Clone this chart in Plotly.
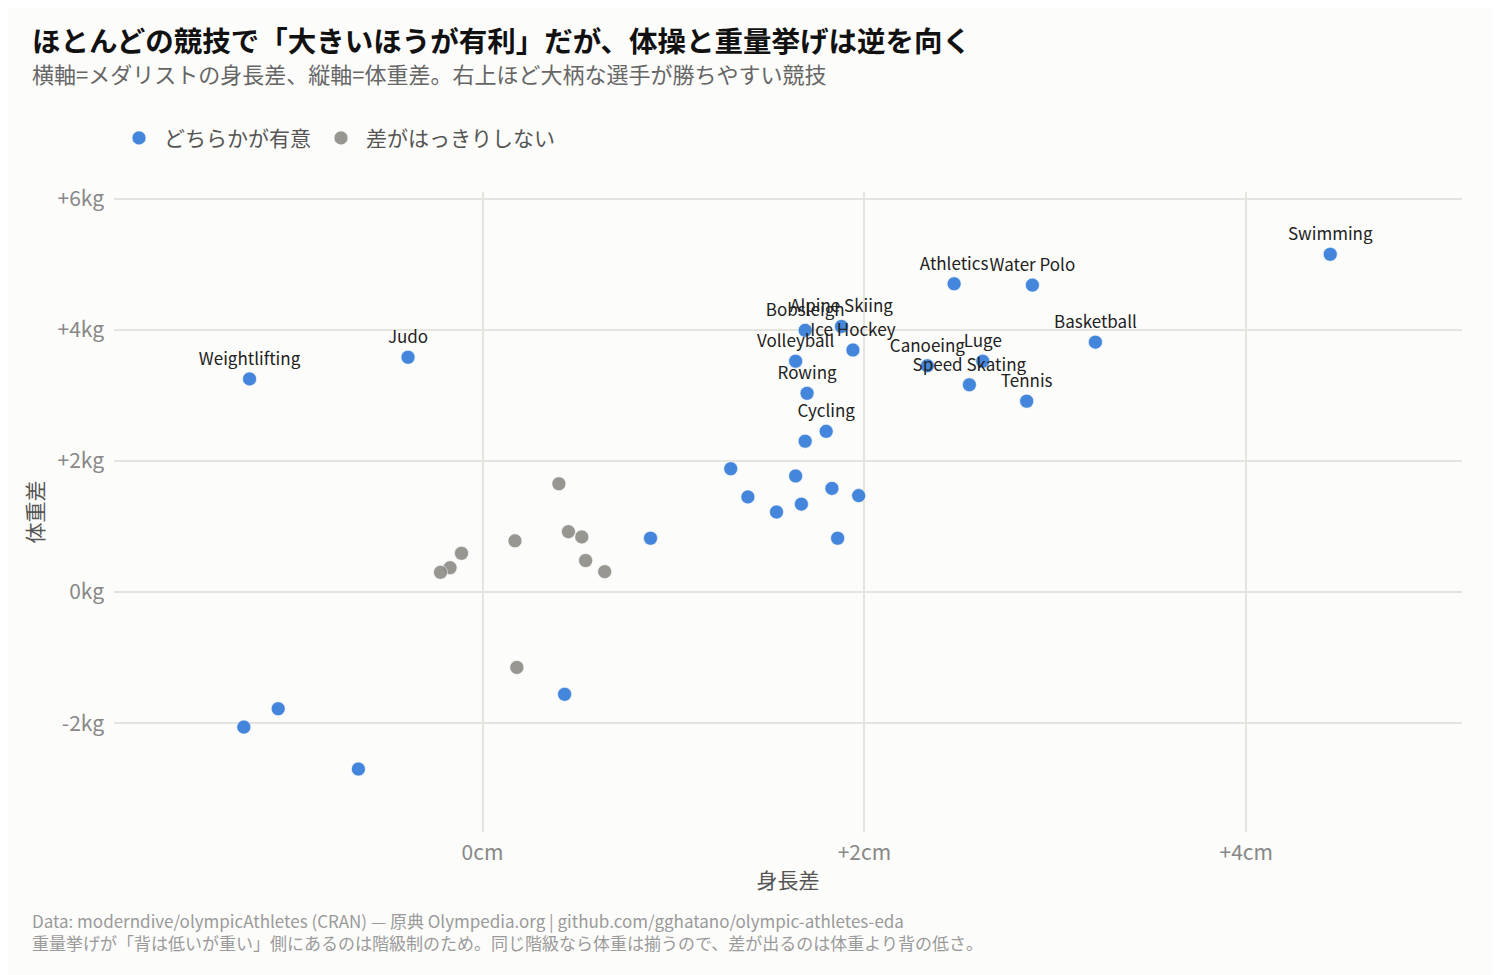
import plotly.graph_objects as go

# significant sports (blue); "" = no label shown
sig_names = ["Swimming", "Athletics", "Water Polo", "Basketball", "Bobsleigh",
             "Alpine Skiing", "Ice Hockey", "Volleyball", "Rowing", "Cycling",
             "", "Canoeing", "Luge", "Speed Skating", "Tennis",
             "Weightlifting", "Judo",
             "", "", "", "", "", "", "", "", "", "", "", "", ""]
sig_height = [4.44, 2.47, 2.88, 3.21, 1.69,
              1.88, 1.94, 1.64, 1.70, 1.80,
              1.69, 2.33, 2.62, 2.55, 2.85,
              -1.22, -0.39,
              1.30, 1.39, 1.54, 1.64, 1.67, 1.83, 1.97, 1.86, 0.88, 0.43,
              -1.25, -1.07, -0.65]
sig_weight = [5.15, 4.70, 4.68, 3.81, 3.99,
              4.05, 3.69, 3.52, 3.03, 2.45,
              2.30, 3.45, 3.52, 3.16, 2.91,
              3.25, 3.58,
              1.88, 1.45, 1.22, 1.77, 1.34, 1.58, 1.47, 0.82, 0.82, -1.56,
              -2.06, -1.78, -2.70]

# not clearly different (gray)
ns_height = [0.40, 0.45, 0.52, 0.17, -0.11, -0.17, -0.22, 0.54, 0.64, 0.18]
ns_weight = [1.65, 0.92, 0.84, 0.78, 0.59, 0.37, 0.30, 0.48, 0.31, -1.15]

x_ticks = [0, 2, 4]
x_labels = ["0cm", "+2cm", "+4cm"]
y_ticks = [-2, 0, 2, 4, 6]
y_labels = ["-2kg", "0kg", "+2kg", "+4kg", "+6kg"]

FONT = "Noto Sans CJK JP"
BG = "#fcfcfa"
GRID = "#e6e4de"

fig = go.Figure()

fig.add_trace(go.Scatter(
    x=sig_height, y=sig_weight, text=sig_names,
    mode="markers+text", textposition="top center",
    textfont=dict(family=FONT, size=17, color="#222222"),
    marker=dict(size=14, color="#3a80da", opacity=0.95,
                line=dict(width=1, color="rgba(255,255,255,0.6)")),
    name="どちらかが有意",
))
fig.add_trace(go.Scatter(
    x=ns_height, y=ns_weight,
    mode="markers",
    marker=dict(size=14, color="#8d8b85", opacity=0.9,
                line=dict(width=1, color="rgba(255,255,255,0.6)")),
    name="差がはっきりしない",
))

# page has an 8px body margin, so the figure is drawn 8px smaller/shifted
fig.update_layout(
    width=1492, height=967,
    paper_bgcolor=BG, plot_bgcolor=BG,
    font=dict(family=FONT, size=21, color="#555555"),
    margin=dict(l=106, r=38, t=184, b=143),
    showlegend=True,
    legend=dict(orientation="h", x=0.0, xanchor="left", y=1.084, yanchor="middle",
                font=dict(size=21, color="#555555"), itemwidth=40,
                bgcolor="rgba(0,0,0,0)"),
    xaxis=dict(range=[-1.93, 5.13], tickvals=x_ticks, ticktext=x_labels,
               showgrid=True, gridcolor=GRID, gridwidth=1.5,
               zeroline=False, showline=False, ticks="", ticklabelstandoff=6,
               tickfont=dict(size=21, color="#888888"),
               title=dict(text="身長差", font=dict(size=21, color="#555555"), standoff=8)),
    yaxis=dict(range=[-3.66, 6.1], tickvals=y_ticks, ticktext=y_labels,
               showgrid=True, gridcolor=GRID, gridwidth=1.5,
               zeroline=False, showline=False, ticks="", ticklabelstandoff=9,
               tickfont=dict(size=21, color="#888888"),
               title=dict(text="体重差", font=dict(size=21, color="#555555"), standoff=8)),
)

fig.add_annotation(
    text="<b>ほとんどの競技で「大きいほうが有利」だが、体操と重量挙げは逆を向く</b>",
    xref="paper", yref="paper", x=-0.0623, y=1.2375, xanchor="left", yanchor="middle",
    showarrow=False, font=dict(family=FONT, size=28.5, color="#111111"))
fig.add_annotation(
    text="横軸=メダリストの身長差、縦軸=体重差。右上ほど大柄な選手が勝ちやすい競技",
    xref="paper", yref="paper", x=-0.0623, y=1.186, xanchor="left", yanchor="middle",
    showarrow=False, font=dict(family=FONT, size=22, color="#666666"))
fig.add_annotation(
    text="Data: moderndive/olympicAthletes (CRAN) — 原典 Olympedia.org | github.com/gghatano/olympic-athletes-eda",
    xref="paper", yref="paper", x=-0.0623, y=-0.139, xanchor="left", yanchor="middle",
    showarrow=False, font=dict(family=FONT, size=17, color="#9a9a9a"))
fig.add_annotation(
    text="重量挙げが「背は低いが重い」側にあるのは階級制のため。同じ階級なら体重は揃うので、差が出るのは体重より背の低さ。",
    xref="paper", yref="paper", x=-0.0623, y=-0.172, xanchor="left", yanchor="middle",
    showarrow=False, font=dict(family=FONT, size=17, color="#9a9a9a"))

fig.write_html("out.html")
